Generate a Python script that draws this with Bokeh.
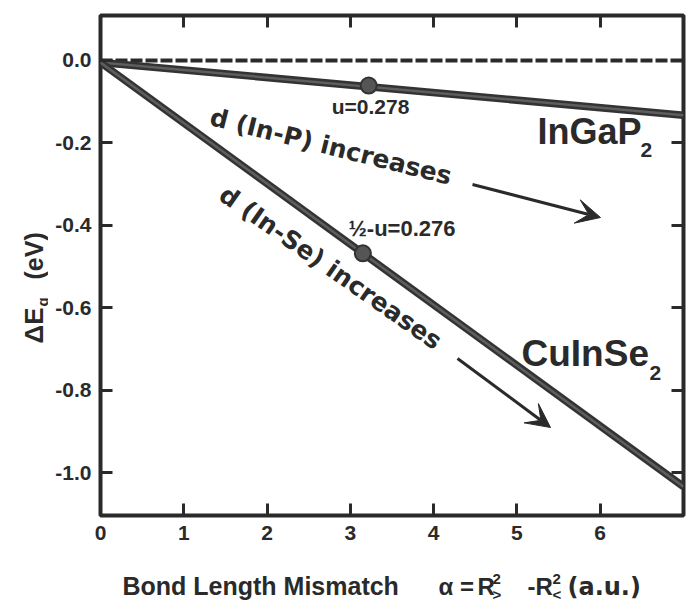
import math
from bokeh.plotting import figure
from bokeh.layouts import column, row
from bokeh.models import Range1d, LinearAxis, FixedTicker, Arrow, VeeHead
from bokeh.core.properties import value
from bokeh.embed import file_html
from bokeh.resources import INLINE

# ---------------- data ----------------
x_ends = [0.0, 7.0]
zero_ref = [0.0, 0.0]
ingap_eg = [-0.005, -0.133]
cuinse_eg = [-0.005, -1.034]
ingap_point_x = [3.22]
ingap_point_y = [-0.061]
cuinse_point_x = [3.15]
cuinse_point_y = [-0.468]
x_ticks = [0, 1, 2, 3, 4, 5, 6]
x_tick_labels = ["0", "1", "2", "3", "4", "5", "6"]
y_ticks = [0.0, -0.2, -0.4, -0.6, -0.8, -1.0]
y_tick_labels = ["0.0", "-0.2", "-0.4", "-0.6", "-0.8", "-1.0"]

X_MIN, X_MAX = 0.0, 7.0
Y_MIN, Y_MAX = -1.104, 0.109

W, H = 686, 603
YW = 48           # width of the y-title strip
XH = 43           # height of the x-title strip
PW, PH = W - YW, H - XH
BL, BR, BT, BB = 100 - YW, 3, 15, 45
FW, FH = PW - BL - BR, PH - BT - BB

INK = "#2a2a2a"
LINE_DARK = "#333333"
LINE_MID = "#5e5e5e"
FONT = "Liberation Sans"
MID = 0.33        # baseline -> vertical middle of text, in em


def dx(px):  # canvas pixel -> data x
    return X_MIN + (px - YW - BL) / FW * (X_MAX - X_MIN)


def dy(py):  # canvas pixel -> data y
    return Y_MAX - (py - BT) / FH * (Y_MAX - Y_MIN)


p = figure(width=PW, height=PH, output_backend="svg", toolbar_location=None,
           title=None,
           x_range=Range1d(X_MIN, X_MAX), y_range=Range1d(Y_MIN, Y_MAX),
           min_border_left=BL, min_border_right=BR, min_border_top=BT,
           min_border_bottom=BB, background_fill_color="white",
           border_fill_color="white")
p.grid.visible = False
p.outline_line_color = INK
p.outline_line_width = 4


def style_axis(ax, ticks, labels=None):
    ax.ticker = FixedTicker(ticks=ticks)
    ax.axis_line_color = None
    ax.major_tick_in = 12
    ax.major_tick_out = 0
    ax.major_tick_line_width = 3
    ax.major_tick_line_color = INK
    ax.minor_tick_line_color = None
    if labels is None:
        ax.major_label_text_font_size = "0px"
        ax.major_label_standoff = 0
        ax.major_label_text_alpha = 0
    else:
        ax.major_label_overrides = {t: l for t, l in zip(ticks, labels)}
        ax.major_label_text_font = FONT
        ax.major_label_text_font_style = "bold"
        ax.major_label_text_font_size = "21px"
        ax.major_label_text_color = INK


style_axis(p.xaxis[0], x_ticks, x_tick_labels)
p.xaxis[0].major_label_standoff = 10
style_axis(p.yaxis[0], y_ticks, y_tick_labels)
p.yaxis[0].major_label_standoff = 9

top_ax = LinearAxis()
style_axis(top_ax, x_ticks[1:])
p.add_layout(top_ax, "above")
right_ax = LinearAxis()
style_axis(right_ax, y_ticks[1:])
p.add_layout(right_ax, "right")

# reference dashed line
p.line(x_ends, zero_ref, line_color=INK, line_width=4, line_dash="12 3")

# main lines (dark outline + mid-grey core)
for ys in (ingap_eg, cuinse_eg):
    p.line(x_ends, ys, line_color=LINE_DARK, line_width=7.5)
    p.line(x_ends, ys, line_color=LINE_MID, line_width=2.5)

p.scatter(ingap_point_x, ingap_point_y, size=16, fill_color="#555555",
          line_color=LINE_DARK, line_width=2)
p.scatter(cuinse_point_x, cuinse_point_y, size=16, fill_color="#555555",
          line_color=LINE_DARK, line_width=2)


def txt(fig, x, y, text, size, font=FONT, angle=0, align="left", style="bold"):
    fig.text(x=[x], y=[y], text=[text], text_font=value(font),
             text_font_size=f"{size}px", text_font_style=style,
             text_color=INK, text_align=align, text_baseline="middle",
             angle=angle, angle_units="deg")


def mid(px, py, size, angle):
    """Move a baseline point (canvas px) to the text's middle line."""
    th = math.radians(angle)
    off = MID * size
    return px - math.sin(th) * off, py - math.cos(th) * off


def ptxt(px, py, text, size, angle=0, **kw):
    mx, my = mid(px, py, size, angle)
    txt(p, dx(mx), dy(my), text, size, angle=angle, **kw)


# point annotations
ptxt(370, 113, "u=0.278", 21, align="center")
ptxt(348, 235, "½-u=0.276", 22)

# compound names
ptxt(537, 143, "InGaP", 36)
ptxt(640, 156, "2", 21)
ptxt(521, 365, "CuInSe", 37)
ptxt(649, 379, "2", 21)

# rotated notes
ptxt(208, 124, "d (In-P) increases", 25, font="DejaVu Sans", angle=-14)
ptxt(217, 198, "d (In-Se) increases", 25, font="DejaVu Sans", angle=-35)

# arrows
p.add_layout(Arrow(x_start=dx(472), y_start=dy(184), x_end=dx(600), y_end=dy(217),
                   line_color=INK, line_width=3,
                   end=VeeHead(size=24, fill_color=INK, line_color=INK, line_width=1)))
p.add_layout(Arrow(x_start=dx(457), y_start=dy(358), x_end=dx(550), y_end=dy(427),
                   line_color=INK, line_width=3,
                   end=VeeHead(size=24, fill_color=INK, line_color=INK, line_width=1)))


def blank_fig(w, h, x_range, y_range):
    f = figure(width=w, height=h, output_backend="svg", toolbar_location=None,
               title=None, x_range=x_range, y_range=y_range,
               x_axis_type=None, y_axis_type=None,
               min_border=0, min_border_left=0, min_border_right=0,
               min_border_top=0, min_border_bottom=0,
               background_fill_color="white", border_fill_color="white")
    f.grid.visible = False
    f.outline_line_color = None
    return f


# y-axis title strip: its frame is aligned with the main frame, so it shares
# the main y scale; x in canvas pixels
yfig = blank_fig(YW, PH, Range1d(0, YW), Range1d(Y_MIN, Y_MAX))


def yl(px, py, text, size):
    mx, my = mid(px, py, size, 90)
    txt(yfig, mx, dy(my), text, size, angle=90)


yl(42, 343, "ΔE", 26)
yl(47, 306, "g", 15)
yl(42, 279, "(eV)", 25)

# x-axis title strip (x in canvas pixels, y from strip bottom)
xfig = blank_fig(W, XH, Range1d(0, W), Range1d(0, XH))


def xl(px, py, text, size, font=FONT):
    mx, my = mid(px, py, size, 0)
    txt(xfig, mx, H - my, text, size, font=font)


xl(122, 594, "Bond Length Mismatch", 25)
xl(438, 594, "α =", 24)
xl(477, 594, "R", 24)
xl(492, 583, "2", 15)
xl(492, 599, ">", 15)
xl(527, 594, "-", 24)
xl(535, 594, "R", 24)
xl(552, 583, "2", 15)
xl(552, 599, "<", 15)
xl(567, 594, "(a.u.)", 24, font="DejaVu Sans")

layout = column(row(yfig, p, spacing=0), xfig, spacing=0)
open("out.html", "w").write(file_html(layout, INLINE))
